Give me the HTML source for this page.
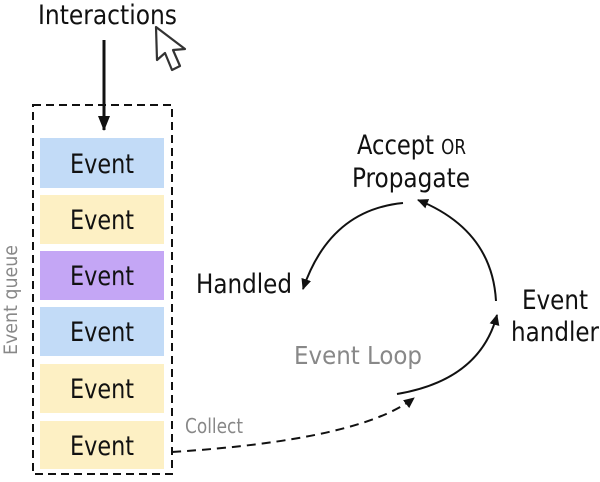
<!DOCTYPE html>
<html><head><meta charset="utf-8"><style>
html,body{margin:0;padding:0;background:#fff}
svg text{font-family:"DejaVu Sans Condensed","Liberation Sans",sans-serif}
</style></head><body>
<svg width="600" height="477" viewBox="0 0 600 477" xmlns="http://www.w3.org/2000/svg">
<defs>
<marker id="a" markerWidth="12" markerHeight="12" refX="10" refY="6" orient="auto" markerUnits="userSpaceOnUse"><path d="M0,1 L11,6 L0,11 Z" fill="#111"/></marker>
<marker id="b" markerWidth="16" markerHeight="16" refX="14" refY="8" orient="auto" markerUnits="userSpaceOnUse"><path d="M0,2 L15,8 L0,14 Z" fill="#111"/></marker>
</defs>
<text x="38" y="24" font-size="27" textLength="139" lengthAdjust="spacingAndGlyphs" fill="#111">Interactions</text>
<path d="M156,27 L157,60 L165,53 L172,70 L180,66 L173,50 L185,49 Z" fill="#fff" stroke="#333" stroke-width="2.2" stroke-linejoin="round"/>
<line x1="104" y1="40" x2="104" y2="130" stroke="#111" stroke-width="3" marker-end="url(#b)"/>
<rect x="33" y="105" width="139" height="369" fill="none" stroke="#111" stroke-width="2" stroke-dasharray="8,5"/>
<g font-size="27" fill="#111">
<rect x="40" y="138" width="124" height="50" fill="#c2dbf7"/><text x="70" y="173" textLength="64" lengthAdjust="spacingAndGlyphs">Event</text>
<rect x="40" y="195" width="124" height="49" fill="#fdf0c4"/><text x="70" y="229" textLength="64" lengthAdjust="spacingAndGlyphs">Event</text>
<rect x="40" y="251" width="124" height="49" fill="#c4a6f5"/><text x="70" y="285" textLength="64" lengthAdjust="spacingAndGlyphs">Event</text>
<rect x="40" y="307" width="124" height="49" fill="#c2dbf7"/><text x="70" y="341" textLength="64" lengthAdjust="spacingAndGlyphs">Event</text>
<rect x="40" y="364" width="124" height="49" fill="#fdf0c4"/><text x="70" y="398" textLength="64" lengthAdjust="spacingAndGlyphs">Event</text>
<rect x="40" y="421" width="124" height="48" fill="#fdf0c4"/><text x="70" y="455" textLength="64" lengthAdjust="spacingAndGlyphs">Event</text>
</g>
<text transform="translate(17,355) rotate(-90)" x="0" y="0" font-size="19" textLength="110" lengthAdjust="spacingAndGlyphs" fill="#888">Event queue</text>
<text x="357" y="154" font-size="27" textLength="109" lengthAdjust="spacingAndGlyphs" fill="#111">Accept <tspan font-size="20">OR</tspan></text>
<text x="352" y="187" font-size="27" textLength="118" lengthAdjust="spacingAndGlyphs" fill="#111">Propagate</text>
<text x="196" y="293" font-size="27" textLength="96" lengthAdjust="spacingAndGlyphs" fill="#111">Handled</text>
<text x="522" y="309" font-size="27" textLength="66" lengthAdjust="spacingAndGlyphs" fill="#111">Event</text>
<text x="511" y="341" font-size="27" textLength="88" lengthAdjust="spacingAndGlyphs" fill="#111">handler</text>
<text x="294" y="364" font-size="25" textLength="128" lengthAdjust="spacingAndGlyphs" fill="#888">Event Loop</text>
<text x="185" y="433" font-size="20" textLength="58" lengthAdjust="spacingAndGlyphs" fill="#888">Collect</text>
<g fill="none" stroke="#111" stroke-width="2">
<path d="M403,203 Q330,210 303,289" marker-end="url(#a)"/>
<path d="M496,301 Q492,230 418,200" marker-end="url(#a)"/>
<path d="M397,394 Q480,380 497,315" marker-end="url(#a)"/>
<path d="M172,452 Q360,440 414,398" stroke-dasharray="9,6" marker-end="url(#a)"/>
</g>
</svg>
</body></html>
